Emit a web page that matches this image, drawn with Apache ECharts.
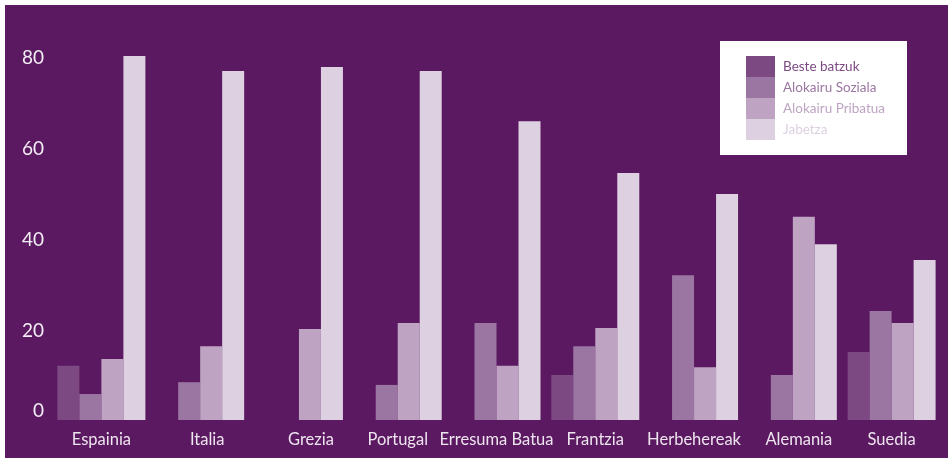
<!DOCTYPE html>
<html>
<head>
<meta charset="utf-8">
<script src="https://cdn.jsdelivr.net/npm/echarts@6/dist/echarts.min.js"></script>
<style>
html,body{margin:0;padding:0;background:#ffffff;}
#chart{width:948px;height:458px;}
</style>
</head>
<body>
<div id="chart"></div>
<script>
const categories = ['Espainia','Italia','Grezia','Portugal','Erresuma Batua','Frantzia','Herbehereak','Alemania','Suedia'];
const seriesNames = ['Beste batzuk','Alokairu Soziala','Alokairu Pribatua','Jabetza'];
const besteBatzuk      = [11.9, null, null, null, null, 9.9, null, null, 14.9];
const alokairuSoziala  = [5.7, 8.3, null, 7.7, 21.3, 16.2, 31.8, 9.9, 23.9];
const alokairuPribatua = [13.4, 16.2, 20.0, 21.3, 11.9, 20.2, 11.6, 44.6, 21.3];
const jabetza          = [79.9, 76.6, 77.5, 76.6, 65.6, 54.2, 49.6, 38.6, 35.1];
const yTicks = [0, 20, 40, 60, 80];

const colors = ['#7c4982', '#9c76a2', '#bea3c3', '#ddd0e0'];
const values = [besteBatzuk, alokairuSoziala, alokairuPribatua, jabetza];
// label nudges (style only): shift label centre to the right by n px
const labelShift = {'Italia': 7, 'Grezia': 12, 'Alemania': 6};

const chart = echarts.init(document.getElementById('chart'));
const fam = 'Lato, "Open Sans", sans-serif';
chart.setOption({
  backgroundColor: 'transparent',
  animation: false,
  graphic: [
    {type: 'rect', z: -10, silent: true, shape: {x: 5, y: 5, width: 943, height: 453}, style: {fill: '#5a1960'}},
    {type: 'rect', z: 50, silent: true, shape: {x: 720, y: 41, width: 187, height: 114}, style: {fill: '#ffffff'}}
  ],
  grid: {left: 52, right: 7, top: 10, bottom: 38},
  legend: {
    orient: 'vertical',
    left: 746, top: 56,
    padding: 0,
    itemWidth: 29, itemHeight: 21, itemGap: 0,
    icon: 'rect',
    z: 60,
    data: seriesNames.map((n, i) => ({name: n, textStyle: {color: colors[i]}})),
    textStyle: {fontFamily: fam, fontSize: 13.5, padding: [0, 0, 0, 3]}
  },
  xAxis: {
    type: 'category',
    data: categories.map(c => labelShift[c] ? {value: c, textStyle: {padding: [0, 0, 0, 2 * labelShift[c]]}} : c),
    axisLine: {show: false},
    axisTick: {show: false},
    axisLabel: {interval: 0, color: '#eee4ef', fontFamily: fam, fontSize: 16.5, margin: 11}
  },
  yAxis: {
    type: 'value',
    min: 0, max: 90, interval: 20,
    splitLine: {show: false},
    axisLine: {show: false},
    axisTick: {show: false},
    axisLabel: {
      showMaxLabel: false,
      margin: 8,
      color: '#f3ecf4',
      fontFamily: fam,
      fontSize: 19,
      formatter: v => yTicks.includes(v) ? (v === 0 ? '{z|0}' : '{n|' + v + '}') : '',
      rich: {
        z: {fontFamily: fam, fontSize: 19, color: '#f3ecf4', padding: [0, 0, 18, 0]},
        n: {fontFamily: fam, fontSize: 19, color: '#f3ecf4', padding: [4, 0, 0, 0]}
      }
    }
  },
  series: seriesNames.map((n, i) => ({
    name: n,
    type: 'bar',
    data: values[i],
    barWidth: 22,
    barGap: '0%',
    itemStyle: {color: colors[i]},
    emphasis: {disabled: true}
  }))
});
</script>
</body>
</html>
